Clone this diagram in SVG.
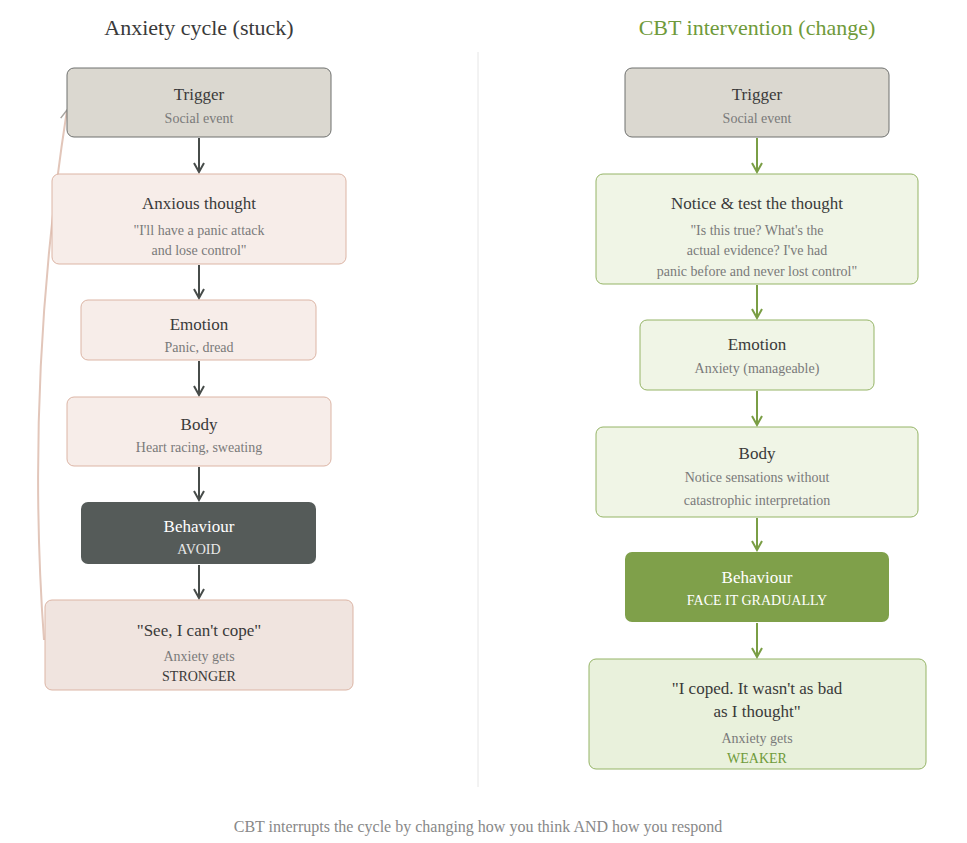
<svg xmlns="http://www.w3.org/2000/svg" width="967" height="843" viewBox="0 0 967 843">
<style>
text{font-family:"Liberation Serif","Times New Roman",serif;text-anchor:middle}
.t{font-size:17px;fill:#3a3a3a}
.s{font-size:14px;fill:#7a7a7a}
.gray{fill:#dbd8d0;stroke:#6e706e;stroke-width:1}
.pink{fill:#f7ede9;stroke:#dcb5a5;stroke-width:1}
.green{fill:#f0f5e6;stroke:#95b466;stroke-width:1}
.lc{stroke:#474c4a;stroke-width:2;fill:none}
.rc{stroke:#7a9e45;stroke-width:2;fill:none}
</style>
<defs>
<marker id="ad" viewBox="0 0 12 12" refX="10" refY="6" markerWidth="12" markerHeight="12" markerUnits="userSpaceOnUse" orient="auto"><path d="M1,1 L10,6 L1,11" fill="none" stroke="#474c4a" stroke-width="2"/></marker>
<marker id="ag" viewBox="0 0 12 12" refX="10" refY="6" markerWidth="12" markerHeight="12" markerUnits="userSpaceOnUse" orient="auto"><path d="M1,1 L10,6 L1,11" fill="none" stroke="#7a9e45" stroke-width="2"/></marker>
<marker id="ap" viewBox="0 0 12 12" refX="10" refY="6" markerWidth="12" markerHeight="12" markerUnits="userSpaceOnUse" orient="auto"><path d="M1,1 L10,6 L1,11" fill="none" stroke="#a8a4a0" stroke-width="1.5"/></marker>
</defs>
<rect width="967" height="843" fill="#fff"/>
<text x="199" y="35" style="font-size:22px;fill:#3a3a3a">Anxiety cycle (stuck)</text>
<text x="757" y="35" style="font-size:22px;fill:#6f9a3a">CBT intervention (change)</text>
<line x1="478" y1="52" x2="478" y2="787" stroke="#e6e6e6" stroke-width="1"/>
<g id="connectors">
<path class="lc" d="M199,138 V172" marker-end="url(#ad)"/>
<path class="lc" d="M199,265 V298" marker-end="url(#ad)"/>
<path class="lc" d="M199,361 V395" marker-end="url(#ad)"/>
<path class="lc" d="M199,467 V500" marker-end="url(#ad)"/>
<path class="lc" d="M199,565 V598" marker-end="url(#ad)"/>
<path d="M44,640 Q25,380 67,110" stroke="#e2c6ba" stroke-width="2" fill="none" marker-end="url(#ap)"/>
<path class="rc" d="M757,138 V172" marker-end="url(#ag)"/>
<path class="rc" d="M757,285 V318" marker-end="url(#ag)"/>
<path class="rc" d="M757,391 V425" marker-end="url(#ag)"/>
<path class="rc" d="M757,518 V550" marker-end="url(#ag)"/>
<path class="rc" d="M757,623 V657" marker-end="url(#ag)"/>
</g>
<g id="l-trigger"><rect class="gray" x="67" y="68" width="264" height="69" rx="7"/><text class="t" x="199" y="100">Trigger</text><text class="s" x="199" y="123">Social event</text></g>
<g id="l-thought"><rect class="pink" x="52" y="174" width="294" height="90" rx="7"/><text class="t" x="199" y="209">Anxious thought</text><text class="s" x="199" y="235">"I'll have a panic attack</text><text class="s" x="199" y="255">and lose control"</text></g>
<g id="l-emotion"><rect class="pink" x="81" y="300" width="235" height="60" rx="7"/><text class="t" x="199" y="330">Emotion</text><text class="s" x="199" y="352">Panic, dread</text></g>
<g id="l-body"><rect class="pink" x="67" y="397" width="264" height="69" rx="7"/><text class="t" x="199" y="430">Body</text><text class="s" x="199" y="452">Heart racing, sweating</text></g>
<g id="l-behaviour"><rect x="81" y="502" width="235" height="62" rx="7" fill="#555b59"/><text class="t" x="199" y="532" style="fill:#fff">Behaviour</text><text class="s" x="199" y="554" style="fill:#e8e8e8">AVOID</text></g>
<g id="l-result"><rect x="45" y="600" width="308" height="90" rx="7" fill="#f0e4df" stroke="#dcb5a5"/><text class="t" x="199" y="636">"See, I can't cope"</text><text class="s" x="199" y="661">Anxiety gets</text><text class="s" x="199" y="681" style="fill:#3a3a3a">STRONGER</text></g>
<g id="r-trigger"><rect class="gray" x="625" y="68" width="264" height="69" rx="7"/><text class="t" x="757" y="100">Trigger</text><text class="s" x="757" y="123">Social event</text></g>
<g id="r-thought"><rect class="green" x="596" y="174" width="322" height="110" rx="7"/><text class="t" x="757" y="209">Notice &amp; test the thought</text><text class="s" x="757" y="235">"Is this true? What's the</text><text class="s" x="757" y="255">actual evidence? I've had</text><text class="s" x="757" y="276">panic before and never lost control"</text></g>
<g id="r-emotion"><rect class="green" x="640" y="320" width="234" height="70" rx="7"/><text class="t" x="757" y="350">Emotion</text><text class="s" x="757" y="373">Anxiety (manageable)</text></g>
<g id="r-body"><rect class="green" x="596" y="427" width="322" height="90" rx="7"/><text class="t" x="757" y="459">Body</text><text class="s" x="757" y="482">Notice sensations without</text><text class="s" x="757" y="505">catastrophic interpretation</text></g>
<g id="r-behaviour"><rect x="625" y="552" width="264" height="70" rx="7" fill="#7fa04a"/><text class="t" x="757" y="583" style="fill:#fff">Behaviour</text><text class="s" x="757" y="605" style="fill:#fff">FACE IT GRADUALLY</text></g>
<g id="r-result"><rect x="589" y="659" width="337" height="110" rx="7" fill="#e9f1dc" stroke="#95b466"/><text class="t" x="757" y="694">"I coped. It wasn't as bad</text><text class="t" x="757" y="717">as I thought"</text><text class="s" x="757" y="743">Anxiety gets</text><text class="s" x="757" y="763" style="fill:#6f9a3a">WEAKER</text></g>
<text x="478" y="832" style="font-size:16px;fill:#888">CBT interrupts the cycle by changing how you think AND how you respond</text>
</svg>
